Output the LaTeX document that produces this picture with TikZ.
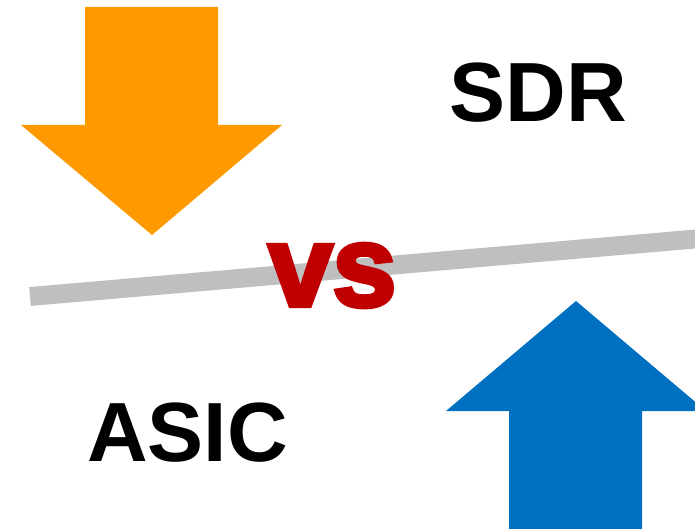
\documentclass[tikz,border=0pt]{standalone}
\usepackage{fontspec}
\setmainfont{Liberation Sans}
\newfontfamily\heavyfont[FakeBold=4]{Liberation Sans Bold}
\definecolor{arrorange}{HTML}{FF9900}
\definecolor{arrblue}{HTML}{0070C0}
\definecolor{vsred}{HTML}{C00000}
\definecolor{linegray}{HTML}{BFBFBF}
\begin{document}
\begin{tikzpicture}[x=1pt,y=-1pt,line join=miter]
				\tikzset{bigword/.style={inner sep=0pt,font=\fontsize{84}{84}\selectfont\bfseries}}
				\useasboundingbox (0,0) rectangle (695,529);
				\begin{scope}
					\clip (0,0) rectangle (695,529);
					\fill[arrorange] (85,7)--(218,7)--(218,125)--(282,125)--(152,235)--(21,125)--(85,125)--cycle;
					\fill[arrblue] (509,529)--(509,411)--(446,411)--(576,301)--(706,411)--(642,411)--(642,529)--cycle;
					\coordinate (lineL) at (30,296.5);
					\coordinate (lineR) at (700,238.6);
					\draw[linegray,line width=18.9pt] (lineL)--(lineR);
				\end{scope}
				\node[bigword] (sdr) at (538.5,93) {SDR};
				\node[bigword] (asic) at (187.5,433) {ASIC};
				\node[inner sep=0pt,text=vsred,font=\fontsize{115}{115}\selectfont\heavyfont] (vs) at (332.5,275.5) {vs};
			\end{tikzpicture}
\end{document}
